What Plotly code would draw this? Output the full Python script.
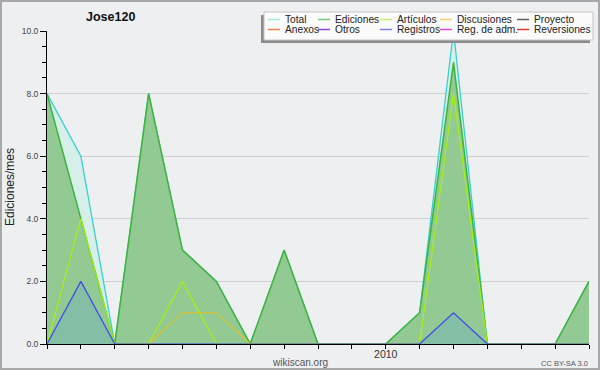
import plotly.graph_objects as go

# ---- data ----
months = ["2009-03", "2009-04", "2009-05", "2009-06", "2009-07",
          "2009-08", "2009-09", "2009-10", "2009-11", "2009-12",
          "2010-01", "2010-02", "2010-03", "2010-04", "2010-05",
          "2010-06", "2010-07"]
total = [8, 6, 0, 8, 3, 2, 0, 3, 0, 0, 0, 1, 10, 0, 0, 0, 2]
ediciones = [8, 4, 0, 8, 3, 2, 0, 3, 0, 0, 0, 1, 9, 0, 0, 0, 2]
articulos = [0, 4, 0, 0, 2, 0, 0, 0, 0, 0, 0, 0, 8, 0, 0, 0, 0]
discusiones = [0, 0, 0, 0, 1, 1, 0, 0, 0, 0, 0, 0, 0, 0, 0, 0, 0]
registros = [0, 2, 0, 0, 0, 0, 0, 0, 0, 0, 0, 0, 1, 0, 0, 0, 0]
y_ticks = [0, 2, 4, 6, 8, 10]
x_tick_labels = ["" if m != "2010-01" else "2010" for m in months]

legend_names = ["Total", "Ediciones", "Artículos", "Discusiones", "Proyecto",
                "Anexos", "Otros", "Registros", "Reg. de adm.", "Reversiones"]
legend_colors = ["#a8e8e0", "#78c878", "#c8f060", "#f8d070", "#606060",
                 "#f08048", "#9048e0", "#8080f0", "#e048e0", "#e03838"]

# ---- geometry (pixels) ----
W, H = 600, 370
L, R, T, B = 47, 589, 31, 344


def px(x):
    return (x - L) / (R - L)


def py(y):
    return (B - y) / (B - T)


BG = "#eeeff1"
FONT = "Liberation Sans"

fig = go.Figure()
fig.add_trace(go.Scatter(x=months, y=total, mode="lines", fill="tozeroy",
                         line=dict(color="#38d0d0", width=1.3),
                         fillcolor="#d6efe8", showlegend=False))
fig.add_trace(go.Scatter(x=months, y=ediciones, mode="lines", fill="tozeroy",
                         line=dict(color="#3cb43c", width=1.5),
                         fillcolor="#93c993", showlegend=False))
fig.add_trace(go.Scatter(x=months, y=discusiones, mode="lines",
                         line=dict(color="#e8c020", width=1.1), showlegend=False))
fig.add_trace(go.Scatter(x=months, y=articulos, mode="lines",
                         line=dict(color="#a8f010", width=1.2), showlegend=False))
fig.add_trace(go.Scatter(x=months, y=registros, mode="lines", fill="tozeroy",
                         line=dict(color="#3c48f0", width=1.2),
                         fillcolor="#84bea4", showlegend=False))

shapes = []
annotations = []

# frame
shapes.append(dict(type="rect", xref="paper", yref="paper",
                   x0=px(1), x1=px(599), y0=py(1), y1=py(369),
                   line=dict(color="#a8a8a8", width=2), layer="below"))

# legend box with shadow
shapes.append(dict(type="rect", xref="paper", yref="paper",
                   x0=px(261), x1=px(590), y0=py(15), y1=py(43),
                   fillcolor="#8c8c8c", line=dict(width=0), layer="above"))
shapes.append(dict(type="rect", xref="paper", yref="paper",
                   x0=px(264), x1=px(593), y0=py(12), y1=py(40),
                   fillcolor="#fbfbfb", line=dict(color="#c4c4c4", width=1),
                   layer="above"))
col_x = [268, 318, 380, 440, 517]
row_y = [19.5, 29.5]
for i, (name, col) in enumerate(zip(legend_names, legend_colors)):
    cx = col_x[i % 5]
    cy = row_y[i // 5]
    shapes.append(dict(type="line", xref="paper", yref="paper",
                       x0=px(cx), x1=px(cx + 12), y0=py(cy), y1=py(cy),
                       line=dict(color=col, width=1.5), layer="above"))
    annotations.append(dict(text=name, xref="paper", yref="paper",
                            x=px(cx + 15), y=py(cy), xanchor="left", yanchor="middle",
                            showarrow=False,
                            font=dict(family=FONT, size=10.2, color="#222")))

annotations.append(dict(text="<b>Jose120</b>", xref="paper", yref="paper",
                        x=px(110), y=py(17), xanchor="center", yanchor="middle",
                        showarrow=False, font=dict(family=FONT, size=12.5, color="#111")))
annotations.append(dict(text="wikiscan.org", xref="paper", yref="paper",
                        x=px(300), y=py(362), xanchor="center", yanchor="middle",
                        showarrow=False, font=dict(family=FONT, size=10, color="#555")))
annotations.append(dict(text="CC BY-SA 3.0", xref="paper", yref="paper",
                        x=px(590), y=py(363), xanchor="right", yanchor="middle",
                        showarrow=False, font=dict(family=FONT, size=7.5, color="#555")))
annotations.append(dict(text="Ediciones/mes", xref="paper", yref="paper",
                        x=px(10), y=py(187), xanchor="center", yanchor="middle",
                        textangle=-90, showarrow=False,
                        font=dict(family=FONT, size=12, color="#222")))

fig.update_layout(
    width=W, height=H,
    margin=dict(l=L, r=W - R, t=T, b=H - B, autoexpand=False),
    paper_bgcolor=BG, plot_bgcolor=BG,
    shapes=shapes, annotations=annotations,
    showlegend=False,
    xaxis=dict(type="category", range=[0, len(months) - 1],
               tickmode="array", tickvals=months, ticktext=x_tick_labels,
               ticks="outside", ticklen=4, tickcolor="black", tickwidth=1,
               ticklabelstandoff=-4,
               showline=True, linecolor="black", linewidth=1,
               showgrid=False, zeroline=False, automargin=False,
               tickfont=dict(family=FONT, size=10.5, color="#333")),
    yaxis=dict(range=[0, 10], tickmode="array", tickvals=y_ticks,
               tickformat=".1f",
               ticks="outside", ticklen=6, tickcolor="black", tickwidth=1,
               minor=dict(dtick=0.5, ticks="outside", ticklen=4,
                          tickcolor="black", showgrid=False),
               showline=True, linecolor="black", linewidth=1,
               showgrid=True, gridcolor="#cfcfcf", gridwidth=1,
               zeroline=False, automargin=False,
               tickfont=dict(family=FONT, size=8.5, color="#444")),
)

fig.write_html("out.html", config={"displayModeBar": False},
               post_script="document.body.style.margin='0';document.body.style.padding='0';")
